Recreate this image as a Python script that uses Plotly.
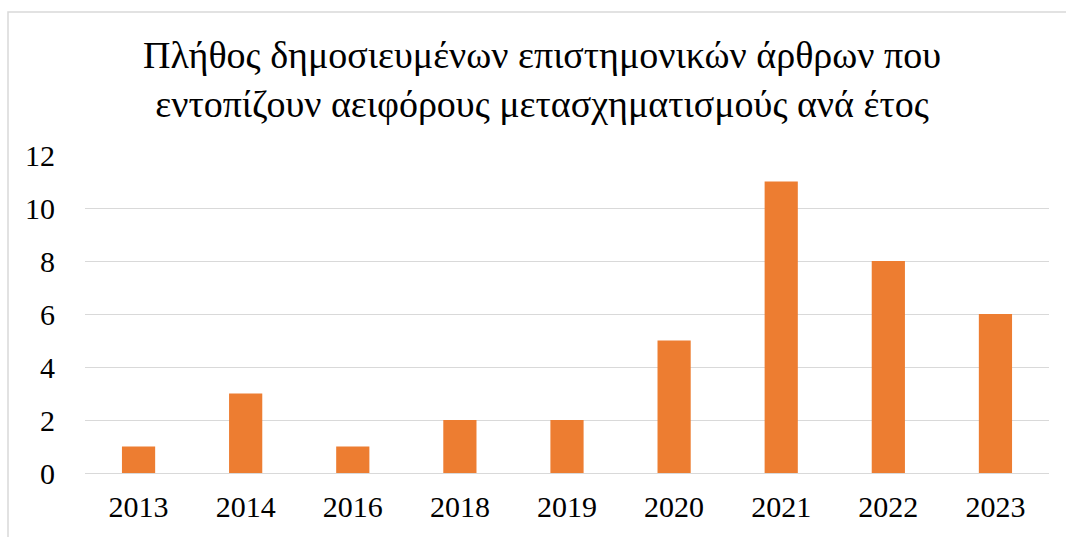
import plotly.graph_objects as go

years = ["2013", "2014", "2016", "2018", "2019", "2020", "2021", "2022", "2023"]
articles = [1, 3, 1, 2, 2, 5, 11, 8, 6]
y_ticks = [0, 2, 4, 6, 8, 10, 12]

title_text = ("Πλήθος δημοσιευμένων επιστημονικών άρθρων που<br>"
              "εντοπίζουν αειφόρους μετασχηματισμούς ανά έτος")

SERIF = "Liberation Serif, DejaVu Serif, serif"

W, H = 1066, 537
L, R, T, B = 85, 17, 155, 64
plot_w = W - L - R
plot_h = H - T - B


def px_x(p):
    return (p - L) / plot_w


def px_y(p):
    return (H - B - p) / plot_h


fig = go.Figure(
    go.Bar(
        x=years,
        y=articles,
        marker=dict(color="#ED7D31", line=dict(width=0)),
    )
)

fig.update_layout(
    width=W,
    height=H,
    margin=dict(l=L, r=R, t=T, b=B),
    paper_bgcolor="white",
    plot_bgcolor="white",
    bargap=0.69,
    showlegend=False,
    font=dict(family=SERIF, color="#000000"),
    title=dict(
        text=title_text,
        x=px_x(542),
        xref="paper",
        xanchor="center",
        y=1 - 68 / H,
        yanchor="middle",
        font=dict(family=SERIF, size=38, color="#000000"),
    ),
    xaxis=dict(
        type="category",
        showgrid=False,
        showline=False,
        zeroline=False,
        ticks="",
        tickfont=dict(size=30),
        ticklabelstandoff=13,
    ),
    yaxis=dict(
        range=[0, 12],
        tickvals=y_ticks,
        showgrid=True,
        gridcolor="#d9d9d9",
        gridwidth=1.3,
        zeroline=True,
        zerolinecolor="#d9d9d9",
        zerolinewidth=1.3,
        showline=False,
        ticks="",
        tickfont=dict(size=30),
        ticklabelstandoff=29,
    ),
    shapes=[
        dict(
            type="rect",
            xref="paper",
            yref="paper",
            x0=px_x(8),
            x1=px_x(W + 5),
            y0=px_y(H + 5),
            y1=px_y(12),
            line=dict(color="#d9d9d9", width=1.5),
            fillcolor="rgba(0,0,0,0)",
            layer="below",
        )
    ],
)

fig.write_html("out.html")
